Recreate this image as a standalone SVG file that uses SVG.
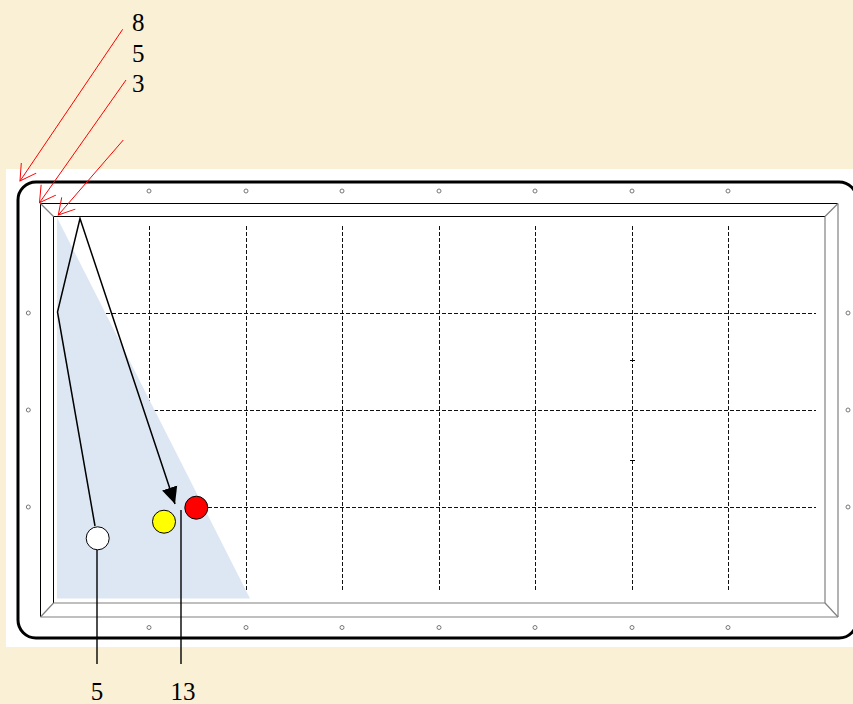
<svg xmlns="http://www.w3.org/2000/svg" width="853" height="704" viewBox="0 0 853 704">
<defs>
<marker id="redArrow" markerUnits="userSpaceOnUse" markerWidth="20" markerHeight="20" viewBox="-17 -10 18 20" refX="0" refY="0" orient="auto">
<path d="M-15.6,-9 L0,0 L-15.6,9" fill="none" stroke="#ff0000" stroke-width="1"/>
</marker>
<marker id="blackArrow" markerUnits="userSpaceOnUse" markerWidth="18" markerHeight="18" viewBox="-16 -8 17 16" refX="0" refY="0" orient="auto">
<path d="M-16,-7.5 L0,0 L-16,7.5 Z" fill="#000"/>
</marker>
</defs>
<style>
.lbl{font-family:"Liberation Serif","Times New Roman",serif;font-size:25px;fill:#000}
.grid{stroke:#111;stroke-width:1;stroke-dasharray:4,2;fill:none}
.dot{fill:#fff;stroke:#777;stroke-width:1}
.red{stroke:#ff0000;stroke-width:1;fill:none}
.dark{stroke:#000;stroke-width:1}
.gray{stroke:#808080;stroke-width:1.2}
.ball{stroke:#000;stroke-width:1}
</style>
<rect width="853" height="704" fill="#faf0d6"/>
<g id="table">
<rect x="6" y="169" width="860" height="478" fill="#fff"/>
<rect x="18" y="182" width="839" height="456" rx="18" ry="18" fill="#fff" stroke="#000" stroke-width="3"/>
<line class="dark" x1="40.5" y1="203.5" x2="838" y2="203.5"/>
<line class="dark" x1="40.5" y1="203.5" x2="40.5" y2="617"/>
<line class="gray" x1="838" y1="203.5" x2="838" y2="617"/>
<line class="gray" x1="40.5" y1="617" x2="838" y2="617"/>
<line class="dark" x1="53.5" y1="216.5" x2="825" y2="216.5"/>
<line class="dark" x1="53.5" y1="216.5" x2="53.5" y2="603"/>
<line class="gray" x1="825" y1="216.5" x2="825" y2="603"/>
<line class="gray" x1="53.5" y1="603" x2="825" y2="603"/>
<line class="gray" x1="40.5" y1="203.5" x2="53.5" y2="216.5"/>
<line class="gray" x1="838" y1="203.5" x2="825" y2="216.5"/>
<line class="gray" x1="838" y1="617" x2="825" y2="603"/>
<line class="gray" x1="40.5" y1="617" x2="53.5" y2="603"/>
</g>
<g id="diamonds">
<circle class="dot" cx="149" cy="191" r="2"/><circle class="dot" cx="246" cy="191" r="2"/><circle class="dot" cx="342" cy="191" r="2"/><circle class="dot" cx="439" cy="191" r="2"/><circle class="dot" cx="535" cy="191" r="2"/><circle class="dot" cx="632" cy="191" r="2"/><circle class="dot" cx="728" cy="191" r="2"/>
<circle class="dot" cx="149" cy="627.5" r="2"/><circle class="dot" cx="246" cy="627.5" r="2"/><circle class="dot" cx="342" cy="627.5" r="2"/><circle class="dot" cx="439" cy="627.5" r="2"/><circle class="dot" cx="535" cy="627.5" r="2"/><circle class="dot" cx="632" cy="627.5" r="2"/><circle class="dot" cx="728" cy="627.5" r="2"/>
<circle class="dot" cx="28.3" cy="313" r="2"/><circle class="dot" cx="28.3" cy="410" r="2"/><circle class="dot" cx="28.3" cy="507" r="2"/>
<circle class="dot" cx="848" cy="313" r="2"/><circle class="dot" cx="848" cy="410" r="2"/><circle class="dot" cx="848" cy="507" r="2"/>
</g>
<g id="grid">
<line class="grid" x1="149.5" y1="226" x2="149.5" y2="590"/>
<line class="grid" x1="246.5" y1="226" x2="246.5" y2="590"/>
<line class="grid" x1="342.5" y1="226" x2="342.5" y2="590"/>
<line class="grid" x1="439.5" y1="226" x2="439.5" y2="590"/>
<line class="grid" x1="535.5" y1="226" x2="535.5" y2="590"/>
<line class="grid" x1="632.5" y1="226" x2="632.5" y2="590"/>
<line class="grid" x1="728.5" y1="226" x2="728.5" y2="590"/>
<line class="grid" x1="58" y1="313.5" x2="816" y2="313.5"/>
<line class="grid" x1="58" y1="410.5" x2="816" y2="410.5"/>
<line class="grid" x1="58" y1="507.5" x2="816" y2="507.5"/>
<line stroke="#000" stroke-width="1" x1="630" y1="360.5" x2="635" y2="360.5"/>
<line stroke="#000" stroke-width="1" x1="630" y1="460.5" x2="635" y2="460.5"/>
</g>
<g id="shade">
<polygon points="57,217.5 250,598.5 57,598.5" fill="#dde7f3"/>
</g>
<g id="connectors">
<line class="red" x1="122.7" y1="29.3" x2="20" y2="181" marker-end="url(#redArrow)"/>
<line class="red" x1="126" y1="80" x2="39.5" y2="202.7" marker-end="url(#redArrow)"/>
<line class="red" x1="123.3" y1="140" x2="58.3" y2="215" marker-end="url(#redArrow)"/>
<polyline points="95,526 57.5,312 80,218.5 175,504" fill="none" stroke="#000" stroke-width="1.5" marker-end="url(#blackArrow)"/>
<line x1="97" y1="550" x2="97" y2="664" stroke="#000" stroke-width="1.4"/>
<line x1="181" y1="510" x2="181" y2="664" stroke="#000" stroke-width="1.4"/>
</g>
<g id="ball-white"><circle class="ball" cx="97.7" cy="538.3" r="11.5" fill="#fff"/></g>
<g id="ball-yellow"><circle class="ball" cx="164" cy="521.7" r="11.5" fill="#ffff00"/></g>
<g id="ball-red"><circle class="ball" cx="196.3" cy="507.7" r="11.5" fill="#ff0000"/></g>
<g id="labels">
<text class="lbl" x="132" y="31">8</text>
<text class="lbl" x="132" y="61.5">5</text>
<text class="lbl" x="132" y="92">3</text>
<text class="lbl" x="97" y="700" text-anchor="middle">5</text>
<text class="lbl" x="183" y="700" text-anchor="middle">13</text>
</g>
</svg>
